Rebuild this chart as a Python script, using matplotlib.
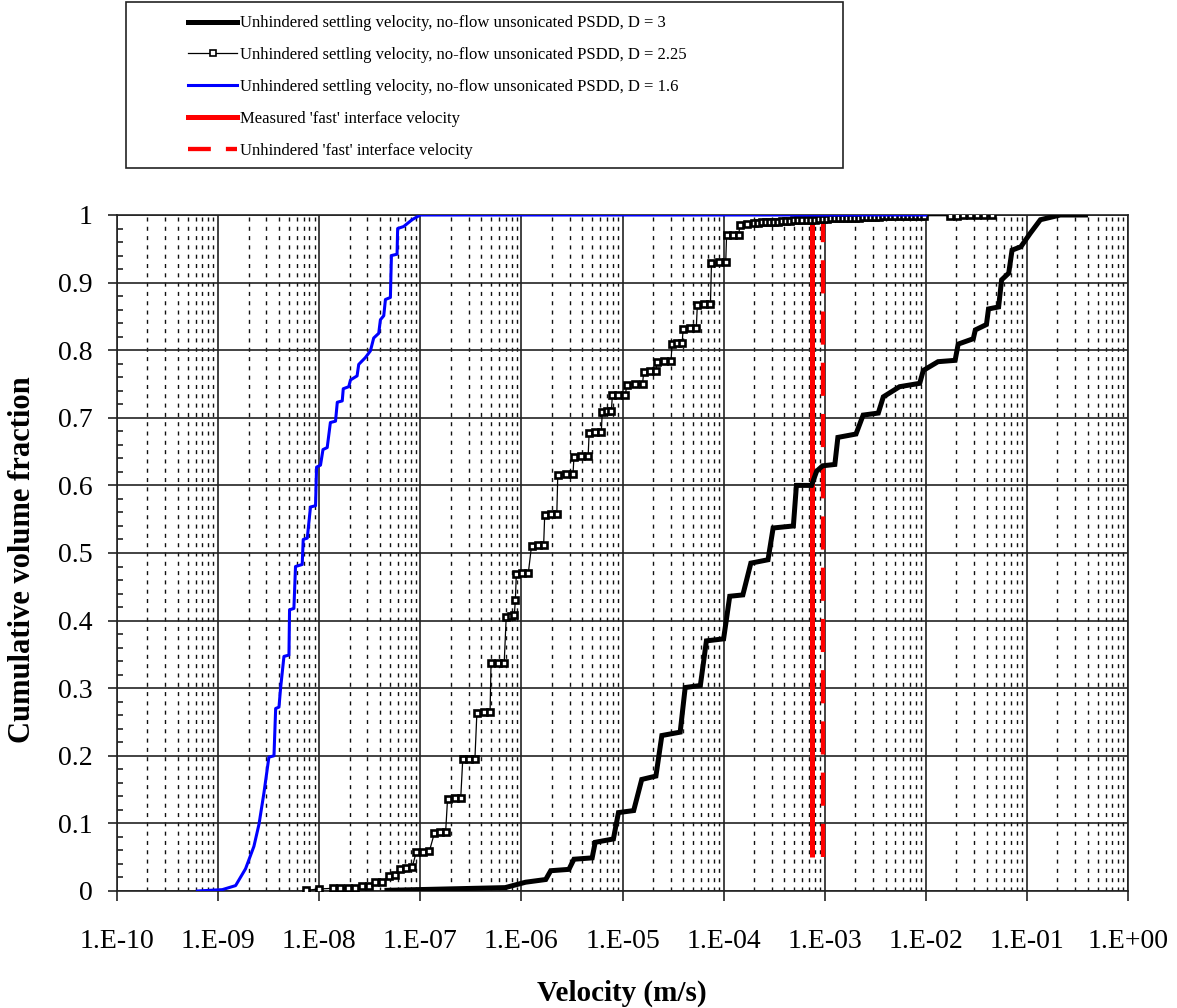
"""Cumulative settling-velocity distributions against the measured interface velocity.

Three unhindered settling-velocity distributions (no-flow, unsonicated PSDD,
fractal dimension D = 3, 2.25 and 1.6) are drawn as cumulative volume fraction
on a log velocity axis, with the measured and unhindered 'fast' interface
velocities as vertical red reference lines.
"""

import matplotlib
matplotlib.use("Agg")
import matplotlib.pyplot as plt
from matplotlib.lines import Line2D
from matplotlib.patches import Rectangle
from matplotlib.ticker import (FixedLocator, FuncFormatter, MultipleLocator,
                               NullFormatter)
import numpy as np

plt.rcParams["font.family"] = ["Liberation Serif", "DejaVu Serif"]

# ---- data -------------------------------------------------------------------
# D = 3: velocity (m/s) and cumulative volume fraction
v_d3 = [4.68e-8, 6.92e-7, 1.10e-6, 1.74e-6, 1.95e-6, 2.95e-6, 3.31e-6, 5.01e-6,
        5.37e-6, 8.13e-6, 9.12e-6, 1.29e-5, 1.55e-5, 2.14e-5, 2.45e-5, 3.72e-5,
        4.17e-5, 5.89e-5, 6.76e-5, 1.00e-4, 1.15e-4, 1.55e-4, 1.86e-4, 2.75e-4,
        3.09e-4, 4.90e-4, 5.25e-4, 7.41e-4, 8.32e-4, 9.55e-4, 1.26e-3, 1.35e-3,
        2.04e-3, 2.40e-3, 3.39e-3, 3.80e-3, 5.50e-3, 8.71e-3, 9.44e-3, 1.32e-2,
        1.95e-2, 2.09e-2, 2.95e-2, 3.09e-2, 3.98e-2, 4.17e-2, 5.25e-2, 5.62e-2,
        6.61e-2, 7.13e-2, 8.71e-2, 1.08e-1, 1.36e-1, 2.14e-1, 3.80e-1]
f_d3 = [0.001, 0.005, 0.013, 0.017, 0.030, 0.032, 0.047, 0.049,
        0.072, 0.077, 0.116, 0.119, 0.165, 0.170, 0.230, 0.235,
        0.301, 0.304, 0.370, 0.373, 0.436, 0.438, 0.485, 0.490,
        0.537, 0.540, 0.600, 0.600, 0.621, 0.629, 0.631, 0.671,
        0.676, 0.704, 0.707, 0.731, 0.746, 0.751, 0.770, 0.783,
        0.785, 0.809, 0.817, 0.830, 0.838, 0.861, 0.864, 0.904,
        0.914, 0.948, 0.953, 0.973, 0.993, 1.000, 1.000]

# D = 2.25
v_d225 = [7.41e-9, 1.00e-8, 1.38e-8, 1.62e-8, 1.91e-8, 2.24e-8, 2.63e-8, 3.09e-8,
          3.55e-8, 4.17e-8, 4.90e-8, 5.62e-8, 6.31e-8, 7.24e-8, 8.32e-8, 9.12e-8,
          1.07e-7, 1.23e-7, 1.38e-7, 1.58e-7, 1.78e-7, 1.86e-7, 2.19e-7, 2.51e-7,
          2.63e-7, 3.02e-7, 3.47e-7, 3.63e-7, 4.27e-7, 4.90e-7, 5.01e-7, 5.89e-7,
          6.76e-7, 7.08e-7, 7.94e-7, 8.51e-7, 8.71e-7, 8.91e-7, 1.02e-6, 1.17e-6,
          1.26e-6, 1.45e-6, 1.66e-6, 1.70e-6, 1.95e-6, 2.24e-6, 2.29e-6, 2.75e-6,
          3.24e-6, 3.31e-6, 3.89e-6, 4.57e-6, 4.68e-6, 5.37e-6, 6.17e-6, 6.31e-6,
          7.08e-6, 7.76e-6, 7.94e-6, 9.12e-6, 1.07e-5, 1.10e-5, 1.32e-5, 1.58e-5,
          1.62e-5, 1.86e-5, 2.14e-5, 2.19e-5, 2.57e-5, 3.02e-5, 3.09e-5, 3.47e-5,
          3.89e-5, 3.98e-5, 4.68e-5, 5.37e-5, 5.50e-5, 6.46e-5, 7.41e-5, 7.59e-5,
          8.91e-5, 1.05e-4, 1.07e-4, 1.23e-4, 1.41e-4, 1.45e-4, 1.70e-4, 2.00e-4,
          2.19e-4, 2.40e-4, 2.63e-4, 2.88e-4, 3.16e-4, 3.47e-4, 3.80e-4, 4.17e-4,
          4.57e-4, 5.01e-4, 5.49e-4, 6.03e-4, 6.61e-4, 7.24e-4, 7.94e-4, 8.71e-4,
          9.55e-4, 1.05e-3, 1.15e-3, 1.26e-3, 1.38e-3, 1.51e-3, 1.66e-3, 1.82e-3,
          2.00e-3, 2.19e-3, 2.40e-3, 2.63e-3, 2.88e-3, 3.16e-3, 3.47e-3, 3.80e-3,
          4.17e-3, 4.57e-3, 5.01e-3, 5.50e-3, 6.03e-3, 6.61e-3, 7.24e-3, 7.94e-3,
          8.71e-3, 9.55e-3, 1.74e-2, 2.04e-2, 2.34e-2, 2.75e-2, 3.24e-2, 3.80e-2,
          4.47e-2]
f_d225 = [0.001, 0.003, 0.004, 0.004, 0.004, 0.005, 0.007, 0.008,
          0.013, 0.014, 0.022, 0.023, 0.033, 0.034, 0.035, 0.058,
          0.058, 0.059, 0.086, 0.087, 0.087, 0.136, 0.137, 0.137,
          0.195, 0.196, 0.196, 0.264, 0.265, 0.265, 0.337, 0.338,
          0.338, 0.406, 0.407, 0.408, 0.430, 0.469, 0.470, 0.470,
          0.511, 0.512, 0.512, 0.556, 0.557, 0.557, 0.616, 0.617,
          0.617, 0.642, 0.643, 0.643, 0.678, 0.679, 0.679, 0.709,
          0.710, 0.710, 0.733, 0.734, 0.734, 0.749, 0.750, 0.750,
          0.768, 0.769, 0.769, 0.783, 0.784, 0.784, 0.809, 0.810,
          0.810, 0.832, 0.833, 0.833, 0.867, 0.868, 0.868, 0.929,
          0.930, 0.930, 0.970, 0.971, 0.971, 0.985, 0.986, 0.988,
          0.988, 0.989, 0.989, 0.990, 0.990, 0.990, 0.991, 0.991,
          0.991, 0.992, 0.992, 0.992, 0.993, 0.993, 0.993, 0.994,
          0.994, 0.994, 0.995, 0.995, 0.995, 0.995, 0.996, 0.996,
          0.996, 0.996, 0.997, 0.997, 0.997, 0.997, 0.997, 0.998,
          0.998, 0.998, 0.998, 0.998, 0.998, 0.998, 0.998, 0.998,
          0.999, 0.999, 0.999, 0.999, 1.000, 1.000, 1.000, 1.000,
          1.000]

# D = 1.6
v_d16 = [6.25e-10, 1.10e-9, 1.49e-9, 1.87e-9, 2.26e-9, 2.54e-9, 2.84e-9, 3.18e-9,
         3.57e-9, 3.71e-9, 4.00e-9, 4.15e-9, 4.48e-9, 5.02e-9, 5.09e-9, 5.62e-9,
         5.83e-9, 6.79e-9, 6.95e-9, 7.62e-9, 8.20e-9, 9.20e-9, 9.42e-9, 1.03e-8,
         1.09e-8, 1.20e-8, 1.29e-8, 1.45e-8, 1.51e-8, 1.69e-8, 1.73e-8, 1.96e-8,
         2.04e-8, 2.37e-8, 2.46e-8, 2.86e-8, 3.21e-8, 3.46e-8, 3.88e-8, 4.03e-8,
         4.35e-8, 4.52e-8, 5.06e-8, 5.18e-8, 5.89e-8, 5.97e-8, 6.85e-8, 8.28e-8,
         1.00e-7, 1.00e-2]
f_d16 = [0.000, 0.002, 0.008, 0.033, 0.066, 0.099, 0.145, 0.198,
         0.200, 0.270, 0.272, 0.300, 0.347, 0.349, 0.416, 0.418,
         0.480, 0.483, 0.520, 0.522, 0.568, 0.570, 0.627, 0.630,
         0.653, 0.656, 0.693, 0.695, 0.723, 0.725, 0.743, 0.746,
         0.756, 0.762, 0.779, 0.789, 0.799, 0.818, 0.825, 0.845,
         0.851, 0.875, 0.878, 0.940, 0.942, 0.980, 0.983, 0.993,
         1.000, 1.000]

# 'fast' interface velocities (m/s), drawn over this span of volume fraction
v_measured = 7.5e-4
v_unhindered = 9.6e-4
ref_span = [0.05, 1.0]

velocity_ticks = [1e-10, 1e-9, 1e-8, 1e-7, 1e-6, 1e-5, 1e-4, 1e-3, 1e-2, 1e-1, 1e0]

labels = [
    "Unhindered settling velocity, no-flow unsonicated PSDD, D = 3",
    "Unhindered settling velocity, no-flow unsonicated PSDD, D = 2.25",
    "Unhindered settling velocity, no-flow unsonicated PSDD, D = 1.6",
    "Measured 'fast' interface velocity",
    "Unhindered 'fast' interface velocity",
]

W, H = 1177, 1008


def fig_x(px):
    return px / W


def fig_y(px):
    return 1 - px / H


def sci_label(v, _pos):
    e = int(round(np.log10(v)))
    return f"1.E{e:+03d}"


def main():
    fig = plt.figure(figsize=(W / 100, H / 100), dpi=100)
    ax = fig.add_axes([fig_x(117), fig_y(891), (1128 - 117) / W, (891 - 215) / H])

    ax.plot([v_measured, v_measured], ref_span, color="#ff0000", lw=3.6,
            solid_capstyle="butt", zorder=2.5)
    ax.plot([v_unhindered, v_unhindered], ref_span, color="#ff0000", lw=3.1,
            dashes=(7.7, 4.2), dash_capstyle="butt", zorder=2.6)

    ax.plot(v_d3, f_d3, color="black", lw=3.6, solid_joinstyle="miter", zorder=3)
    ax.plot(v_d225, f_d225, color="black", lw=0.9, marker="s", ms=5.0,
            mfc="white", mec="black", mew=1.9, zorder=4)
    ax.plot(v_d16, f_d16, color="#0000ff", lw=2.2, zorder=5)

    ax.set_xscale("log")
    ax.set_xlim(velocity_ticks[0], velocity_ticks[-1])
    ax.set_ylim(0, 1)

    minor = [m * t for t in velocity_ticks[:-1] for m in range(2, 10)]
    ax.xaxis.set_major_locator(FixedLocator(velocity_ticks))
    ax.xaxis.set_major_formatter(FuncFormatter(sci_label))
    ax.xaxis.set_minor_locator(FixedLocator(minor))
    ax.xaxis.set_minor_formatter(NullFormatter())
    ax.yaxis.set_major_locator(MultipleLocator(0.1))
    ax.yaxis.set_minor_locator(MultipleLocator(0.02))
    ax.yaxis.set_major_formatter(FuncFormatter(lambda v, _p: f"{v:g}"))

    ax.grid(which="major", color="#222222", lw=1.2, ls="-")
    ax.grid(which="minor", axis="x", color="#111111", lw=1.0, ls=(0, (2.9, 3.8)))
    ax.set_axisbelow(True)

    ax.tick_params(axis="x", which="major", direction="out", length=7.2, width=1.2,
                   labelsize=20, pad=20, color="#222222")
    ax.tick_params(axis="x", which="minor", length=0)
    ax.tick_params(axis="y", which="major", direction="out", length=6.5, width=1.2,
                   labelsize=20, pad=11, color="#222222")
    ax.tick_params(axis="y", which="minor", direction="in", length=4, width=1.2,
                   color="#222222")
    for s in ax.spines.values():
        s.set_color("#222222")
        s.set_linewidth(1.2)

    fig.text(fig_x(622), fig_y(993), "Velocity (m/s)", ha="center", va="center",
             fontsize=21, fontweight="bold")
    fig.text(fig_x(23), fig_y(560), "Cumulative volume fraction", ha="center",
             va="center", rotation=90, fontsize=22, fontweight="bold")

    # legend box drawn separately so the entries can sit off-centre inside it
    fig.patches.append(Rectangle((fig_x(126), fig_y(168)), 717 / W, 166 / H,
                                 transform=fig.transFigure, fill=False,
                                 edgecolor="#222222", lw=1.2))
    handles = [
        Line2D([], [], color="black", lw=3.6),
        Line2D([], [], color="black", lw=0.9, marker="s", ms=4.8,
               mfc="white", mec="black", mew=1.2),
        Line2D([], [], color="#0000ff", lw=2.2),
        Line2D([], [], color="#ff0000", lw=3.6),
        Line2D([], [], color="#ff0000", lw=3.1, dashes=(5.3, 3.5)),
    ]
    fig.legend(handles, labels, loc="upper left",
               bbox_to_anchor=(fig_x(180), fig_y(7)), frameon=False,
               fontsize=12, borderpad=0, handlelength=2.9,
               handletextpad=0.2, labelspacing=0.95)

    fig.savefig("out.png", dpi=100)
    plt.close(fig)


if __name__ == "__main__":
    main()
